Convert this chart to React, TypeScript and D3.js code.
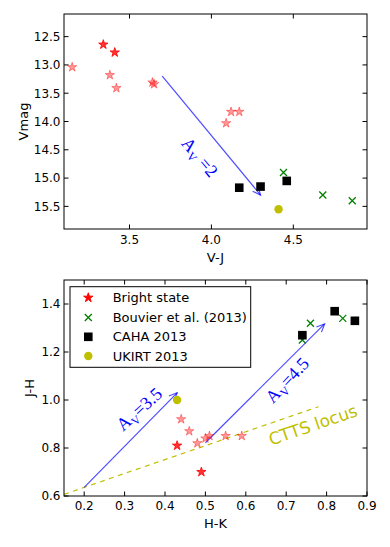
import * as d3 from 'd3';

// top panel: V-J vs Vmag
const topBright: [number, number][] = [[3.34, 12.64], [3.41, 12.78]];
const topFaint: [number, number][] = [
  [3.15, 13.04], [3.38, 13.18], [3.42, 13.41], [3.64, 13.31], [3.65, 13.34],
  [4.09, 14.03], [4.12, 13.83], [4.17, 13.83],
];
const topBouvier: [number, number][] = [[4.44, 14.9], [4.68, 15.3], [4.86, 15.4]];
const topCaha: [number, number][] = [[4.17, 15.17], [4.3, 15.15], [4.46, 15.05]];
const topUkirt: [number, number][] = [[4.41, 15.55]];
const topArrow = [3.7, 13.2, 4.3, 15.3];
const topXTicks = [3.5, 4.0, 4.5];
const topYTicks = [12.5, 13.0, 13.5, 14.0, 14.5, 15.0, 15.5];

// bottom panel: H-K vs J-H
const botBright: [number, number][] = [[0.43, 0.81], [0.49, 0.7]];
const botFaint: [number, number][] = [
  [0.44, 0.92], [0.46, 0.87], [0.48, 0.82], [0.5, 0.84], [0.51, 0.85], [0.55, 0.85], [0.59, 0.85],
];
const botBouvier: [number, number][] = [[0.74, 1.25], [0.76, 1.32], [0.84, 1.34]];
const botCaha: [number, number][] = [[0.74, 1.27], [0.82, 1.37], [0.87, 1.33]];
const botUkirt: [number, number][] = [[0.43, 1.0]];
const cttsLocus: [number, number][] = [[0.15, 0.607], [0.78, 0.972]];
const botArrows = [
  [0.2, 0.636, 0.43, 1.03],
  [0.5, 0.822, 0.795, 1.317],
];
const botXTicks = [0.2, 0.3, 0.4, 0.5, 0.6, 0.7, 0.8, 0.9];
const botYTicks = [0.6, 0.8, 1.0, 1.2, 1.4];

const legendLabels = ['Bright state', 'Bouvier et al. (2013)', 'CAHA 2013', 'UKIRT 2013'];

const RED = '#ff0000';
const GREEN = '#008000';
const YEL = '#bfbf00';
const FONT = 'DejaVu Sans, sans-serif';
const starPath = d3.symbol(d3.symbolStar, 27)() as string;
const fmt = d3.format('.1f');

const Star = ({ x, y, a }: { x: number; y: number; a: number }) => (
  <path d={starPath} transform={`translate(${x},${y})`} fill={RED} fillOpacity={a}
    stroke={RED} strokeOpacity={a} strokeWidth={1} />
);
const Cross = ({ x, y }: { x: number; y: number }) => (
  <path d={`M${x - 3.5},${y - 3.5}L${x + 3.5},${y + 3.5}M${x - 3.5},${y + 3.5}L${x + 3.5},${y - 3.5}`}
    stroke={GREEN} strokeWidth={1.3} fill="none" />
);
const Square = ({ x, y }: { x: number; y: number }) => (
  <rect x={x - 4.3} y={y - 4.3} width={8.6} height={8.6} fill="#000" />
);
const Dot = ({ x, y }: { x: number; y: number }) => <circle cx={x} cy={y} r={4.2} fill={YEL} />;

function Arrow({ x0, y0, x1, y1 }: { x0: number; y0: number; x1: number; y1: number }) {
  const ang = Math.atan2(y1 - y0, x1 - x0);
  const hl = 8, hw = 3.6;
  const bx = x1 - hl * Math.cos(ang), by = y1 - hl * Math.sin(ang);
  const px = -Math.sin(ang) * hw, py = Math.cos(ang) * hw;
  return (
    <g stroke="#0000ff" strokeOpacity={0.7} strokeWidth={1.2} fill="none">
      <line x1={x0} y1={y0} x2={x1} y2={y1} />
      <path d={`M${bx + px},${by + py}L${x1},${y1}L${bx - px},${by - py}`} />
    </g>
  );
}

function AvLabel({ x, y, rot, val }: { x: number; y: number; rot: number; val: string }) {
  return (
    <text transform={`translate(${x},${y}) rotate(${rot})`} textAnchor="middle" dy="0.35em"
      fill="#0000ff" fontFamily="Liberation Serif, serif" fontSize={18}>
      A<tspan fontSize={12} dy={4}>V</tspan><tspan dy={-4}>{val}</tspan>
    </text>
  );
}

function Frame({ x, y, xTicks, yTicks, xLabel, yLabel, yLabelX, xLabelDy }: any) {
  const [x0, x1] = x.range();
  const [yb, yt] = [Math.max(...y.range()), Math.min(...y.range())];
  const tl = 4.5;
  return (
    <g fontFamily={FONT} fill="#000">
      <rect x={x0} y={yt} width={x1 - x0} height={yb - yt} fill="none" stroke="#000" strokeWidth={1} />
      {xTicks.map((t: number) => (
        <g key={'x' + t}>
          <line x1={x(t)} x2={x(t)} y1={yb} y2={yb - tl} stroke="#000" />
          <line x1={x(t)} x2={x(t)} y1={yt} y2={yt + tl} stroke="#000" />
          <text x={x(t)} y={yb + xLabelDy} textAnchor="middle" fontSize={12}>{fmt(t)}</text>
        </g>
      ))}
      {yTicks.map((t: number) => (
        <g key={'y' + t}>
          <line x1={x0} x2={x0 + tl} y1={y(t)} y2={y(t)} stroke="#000" />
          <line x1={x1} x2={x1 - tl} y1={y(t)} y2={y(t)} stroke="#000" />
          <text x={x0 - 3.5} y={y(t)} dy="0.36em" textAnchor="end" fontSize={12}>{fmt(t)}</text>
        </g>
      ))}
      <text x={(x0 + x1) / 2} y={yb + xLabelDy + 18} textAnchor="middle" fontSize={13}>{xLabel}</text>
      <text transform={`translate(${yLabelX},${(yt + yb) / 2}) rotate(-90)`} textAnchor="middle" fontSize={13}>{yLabel}</text>
    </g>
  );
}

export default function App() {
  const xt = d3.scaleLinear().domain([3.1, 4.95]).range([64, 367]);
  const yt = d3.scaleLinear().domain([12.1, 15.9]).range([14, 229]);
  const xb = d3.scaleLinear().domain([0.15, 0.9]).range([64, 367]);
  const yb = d3.scaleLinear().domain([0.6, 1.5]).range([496, 280]);
  const line = d3.line<[number, number]>().x((d) => xb(d[0])).y((d) => yb(d[1]));

  const legY = [297.7, 317.5, 336.8, 356];

  return (
    <svg width={390} height={547} style={{ position: 'absolute', left: 0, top: 0, background: '#fff' }}>
      {/* top panel */}
      <Arrow x0={xt(topArrow[0])} y0={yt(topArrow[1])} x1={xt(topArrow[2])} y1={yt(topArrow[3])} />
      <AvLabel x={200} y={157} rot={50} val=" =2" />
      {topFaint.map((d, i) => <Star key={'tf' + i} x={xt(d[0])} y={yt(d[1])} a={0.4} />)}
      {topBright.map((d, i) => <Star key={'tb' + i} x={xt(d[0])} y={yt(d[1])} a={0.8} />)}
      {topBouvier.map((d, i) => <Cross key={'tx' + i} x={xt(d[0])} y={yt(d[1])} />)}
      {topCaha.map((d, i) => <Square key={'ts' + i} x={xt(d[0])} y={yt(d[1])} />)}
      {topUkirt.map((d, i) => <Dot key={'tu' + i} x={xt(d[0])} y={yt(d[1])} />)}
      <Frame x={xt} y={yt} xTicks={topXTicks} yTicks={topYTicks} xLabel="V-J" yLabel="Vmag" yLabelX={28} xLabelDy={15} />

      {/* bottom panel */}
      <path d={line(cttsLocus) as string} stroke={YEL} strokeWidth={1.2} strokeDasharray="5,4.5" fill="none" />
      <text transform={`translate(313,425) rotate(-19)`} textAnchor="middle" dy="0.35em" fill={YEL}
        fontFamily={FONT} fontSize={17}>CTTS locus</text>
      {botArrows.map((a, i) => <Arrow key={'ba' + i} x0={xb(a[0])} y0={yb(a[1])} x1={xb(a[2])} y1={yb(a[3])} />)}
      <AvLabel x={139} y={409} rot={-42} val="=3.5" />
      <AvLabel x={287} y={380} rot={-47} val="=4.5" />
      {botFaint.map((d, i) => <Star key={'bf' + i} x={xb(d[0])} y={yb(d[1])} a={0.4} />)}
      {botBright.map((d, i) => <Star key={'bb' + i} x={xb(d[0])} y={yb(d[1])} a={0.8} />)}
      {botBouvier.map((d, i) => <Cross key={'bx' + i} x={xb(d[0])} y={yb(d[1])} />)}
      {botCaha.map((d, i) => <Square key={'bs' + i} x={xb(d[0])} y={yb(d[1])} />)}
      {botUkirt.map((d, i) => <Dot key={'bu' + i} x={xb(d[0])} y={yb(d[1])} />)}
      <Frame x={xb} y={yb} xTicks={botXTicks} yTicks={botYTicks} xLabel="H-K" yLabel="J-H" yLabelX={33.5} xLabelDy={14} />

      {/* legend */}
      <rect x={70} y={286.7} width={180.7} height={80.6} fill="#fff" stroke="#000" strokeWidth={1} />
      <Star x={88.3} y={legY[0]} a={1} />
      <Cross x={88.3} y={legY[1]} />
      <Square x={88.3} y={legY[2]} />
      <Dot x={88.3} y={legY[3]} />
      {legendLabels.map((l, i) => (
        <text key={l} x={112.7} y={legY[i]} dy="0.36em" fontFamily={FONT} fontSize={13}>{l}</text>
      ))}
    </svg>
  );
}
